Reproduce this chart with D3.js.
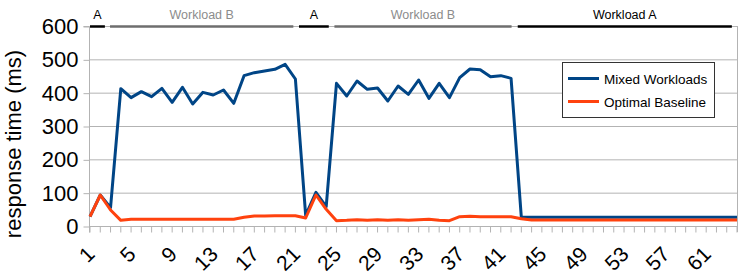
<!DOCTYPE html>
<html><head><meta charset="utf-8">
<script src="https://cdn.jsdelivr.net/npm/d3@7/dist/d3.min.js"></script>
<style>html,body{margin:0;padding:0;background:#fff;}svg{display:block;font-family:"Liberation Sans",Arial,sans-serif;}</style>
</head><body>
<svg id="chart" width="746" height="278"></svg>
<script>
const categories = [1,2,3,4,5,6,7,8,9,10,11,12,13,14,15,16,17,18,19,20,21,22,23,24,25,26,27,28,29,30,31,32,
  33,34,35,36,37,38,39,40,41,42,43,44,45,46,47,48,49,50,51,52,53,54,55,56,57,58,59,60,61,62,63,64];
const mixedWorkloads = [28,93,55,412,385,403,388,413,371,416,366,401,393,408,368,451,460,465,470,485,441,
  32,101,58,428,390,435,410,414,375,420,395,438,383,428,385,445,471,469,448,451,443,
  26,26,26,26,26,26,26,26,26,26,26,26,26,26,26,26,26,26,26,26,26,26];
const optimalBaseline = [28,93,48,17,20,20,20,20,20,20,20,20,20,20,20,26,30,30,31,31,31,24,93,50,16,17,19,17,
  19,17,19,17,19,20,17,16,28,29,28,28,28,28,22,18,18,18,18,18,18,18,18,18,18,18,18,18,18,18,18,18,18,18,18,18];
const xTickLabels = [1,5,9,13,17,21,25,29,33,37,41,45,49,53,57,61];
const yTicks = [0,100,200,300,400,500,600];
const seriesNames = ["Mixed Workloads","Optimal Baseline"];
const seriesColors = ["#004586","#ff420e"];
const phaseLabels = ["A","Workload B","A","Workload B","Workload A"];
const phaseStart = [1,2.95,21.35,24.8,42.65];
const phaseEnd = [2.45,20.8,24.25,42.05,63.5];
const phaseColors = ["#000","#6e6e6e","#000","#6e6e6e","#000"];
const phaseTextColors = ["#000","#8c8c8c","#000","#8c8c8c","#000"];

const svg = d3.select("#chart");
const x = d3.scaleLinear().domain([1,64]).range([90,737]);
const y = d3.scaleLinear().domain([0,600]).range([226,26]);
const grid = "#b3b3b3";

// gridlines
svg.append("g").selectAll("line").data(yTicks).join("line")
  .attr("x1",x(1)).attr("x2",x(64)).attr("y1",d=>y(d)+0.5).attr("y2",d=>y(d)+0.5)
  .attr("stroke",grid).attr("stroke-width",1);
// right wall
svg.append("line").attr("x1",x(64)+0.5).attr("x2",x(64)+0.5).attr("y1",y(600)).attr("y2",y(0)+6)
  .attr("stroke",grid);

// y axis
const yAxis = d3.axisLeft(y).tickValues(yTicks).tickSize(6).tickPadding(5);
const gy = svg.append("g").attr("transform",`translate(${x(1)-0.5},0.5)`).call(yAxis);
gy.select(".domain").attr("stroke",grid).attr("d",`M-6,${y(600)}H0V${y(0)+6}`);
gy.selectAll(".tick line").attr("stroke",grid);
gy.selectAll(".tick text").attr("font-size","22px").attr("fill","#000")
  .attr("font-family","'Liberation Sans',Arial,sans-serif");

// x axis
const xAxis = d3.axisBottom(x).tickValues(categories).tickSize(6).tickFormat(d=>xTickLabels.includes(d)?d:"");
const gx = svg.append("g").attr("transform",`translate(-0.5,${y(0)+0.5})`).call(xAxis);
gx.select(".domain").attr("stroke",grid).attr("d",`M${x(1)},0H${x(64)}`);
gx.selectAll(".tick line").attr("stroke",grid);
gx.selectAll(".tick text").attr("font-size","21px").attr("fill","#000")
  .attr("font-family","'Liberation Sans',Arial,sans-serif")
  .attr("text-anchor","end").attr("dy",0).attr("y",0)
  .attr("transform","translate(6,29) rotate(-45)");

// lines
const line = d3.line().x((d,i)=>x(categories[i])).y(d=>y(d));
[mixedWorkloads, optimalBaseline].forEach((s,k)=>{
  svg.append("path").datum(s).attr("d",line).attr("fill","none")
    .attr("stroke",seriesColors[k]).attr("stroke-width",3).attr("stroke-linejoin","round");
});

// phase annotations
const ph = svg.append("g");
phaseLabels.forEach((lab,i)=>{
  ph.append("line").attr("x1",x(phaseStart[i])).attr("x2",x(phaseEnd[i]))
    .attr("y1",y(600)+0.5).attr("y2",y(600)+0.5).attr("stroke",phaseColors[i]).attr("stroke-width",2.5);
  ph.append("text").attr("x",(x(phaseStart[i])+x(phaseEnd[i]))/2).attr("y",19)
    .attr("text-anchor","middle").attr("font-size","12.5px").attr("fill",phaseTextColors[i]).text(lab);
});

// y title
svg.append("text").attr("transform","translate(20.5,144) rotate(-90)").attr("text-anchor","middle")
  .attr("font-size","22px").attr("fill","#000").text("response time (ms)");

// legend
const lg = svg.append("g");
lg.append("rect").attr("x",562.5).attr("y",62.5).attr("width",152).attr("height",55)
  .attr("fill","#fff").attr("stroke","#333");
seriesNames.forEach((n,i)=>{
  const yy = 78.5 + i*23;
  lg.append("line").attr("x1",568).attr("x2",599).attr("y1",yy).attr("y2",yy)
    .attr("stroke",seriesColors[i]).attr("stroke-width",3);
  lg.append("text").attr("x",604).attr("y",yy+5).attr("font-size","13.5px").attr("fill","#000").text(n);
});
</script>
</body></html>
